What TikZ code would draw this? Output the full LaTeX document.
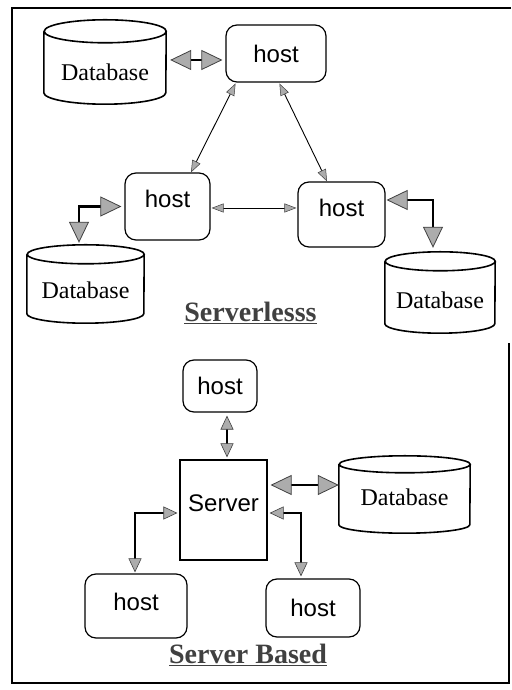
\documentclass[tikz,border=0pt]{standalone}
\usepackage{fontspec}
\setmainfont{Liberation Serif}
\newfontfamily\hvfont{Liberation Sans}
\usetikzlibrary{arrows.meta,calc}

\newcommand\dbcylinder[3]{% node name, x radius, y radius
  \draw[cylline] ([yshift=-#3pt]#1.north west) -- ([yshift=#3pt]#1.south west)
     arc[start angle=180,end angle=360,x radius=#2pt,y radius=#3pt]
     -- ([yshift=-#3pt]#1.north east)
     arc[start angle=0,end angle=180,x radius=#2pt,y radius=#3pt]
     arc[start angle=180,end angle=360,x radius=#2pt,y radius=#3pt];
}

\tikzset{
  hostbox/.style={draw, line width=1.2pt, rounded corners=11pt, inner sep=0pt},
  hosttext/.style={font=\hvfont\fontsize{24}{28}\selectfont},
  serverbox/.style={draw, line width=1.2pt, inner sep=0pt},
  dbbox/.style={inner sep=0pt},
  dbtext/.style={font=\fontsize{24}{28}\selectfont},
  cylline/.style={line width=1.6pt},
  titletext/.style={font=\bfseries\fontsize{28}{32}\selectfont, text=black!75},
  frameline/.style={line width=1.8pt},
  bigtip/.tip={Triangle[length=21pt,width=20pt,fill=gray!65,color=black!75,line width=0.8pt]},
  medtip/.tip={Triangle[length=14pt,width=13pt,fill=gray!65,color=black!75,line width=0.6pt]},
  smalltip/.tip={Triangle[length=12pt,width=9pt,fill=gray!65,color=black!75,line width=0.5pt]},
  bigarr/.style={line width=2.6pt, bigtip-bigtip},
  medarr/.style={line width=1.6pt, medtip-medtip},
  smallarr/.style={line width=0.9pt, smalltip-smalltip},
}

\begin{document}
\begin{tikzpicture}[x=1pt,y=1pt]
\useasboundingbox (0,0) rectangle (511,690);

% frame
\draw[frameline] (511,682) -- (12,682) -- (12,7) -- (509,7) -- (509,347);

% ---------- Serverless ----------
\node[hostbox, minimum width=100pt, minimum height=57pt, label={[hosttext]center:host}] (host1) at (276,636.5) {};
\node[hostbox, minimum width=85pt, minimum height=67pt, label={[hosttext, yshift=8pt]center:host}] (host2) at (167.5,483.5) {};
\node[hostbox, minimum width=87pt, minimum height=65pt, label={[hosttext, yshift=7pt]center:host}] (host3) at (341.5,475.5) {};

\node[dbbox, minimum width=122pt, minimum height=84pt, label={[dbtext, yshift=-10pt]center:Database}] (db1) at (105,628) {};
\dbcylinder{db1}{61}{11.5}
\node[dbbox, minimum width=117pt, minimum height=78pt, label={[dbtext, yshift=-6pt]center:Database}] (db2) at (85.5,406) {};
\dbcylinder{db2}{58.5}{9.5}
\node[dbbox, minimum width=110pt, minimum height=81pt, label={[dbtext, yshift=-7.5pt]center:Database}] (db3) at (440,397.5) {};
\dbcylinder{db3}{55}{9.5}

\node[titletext] (title1) at (250.5,377) {\underline{Serverlesss}};

\coordinate (a1) at ([yshift=-6.5pt]host1.west);
\draw[bigarr, shorten <=4pt, shorten >=3pt] (db1.east |- a1) -- (a1);
\draw[smallarr, shorten <=1pt] ([xshift=-40pt]host1.south) -- ([xshift=23.5pt]host2.north);
\draw[smallarr, shorten <=1pt] ([xshift=3pt]host1.south) -- ([xshift=-14.5pt]host3.north);
\coordinate (a4) at ([yshift=-1.5pt]host2.east);
\draw[smallarr, shorten <=1pt, shorten >=1pt] (a4) -- (host3.west |- a4);
\draw[bigarr, shorten <=3pt, shorten >=2pt] (host2.west) -| ([xshift=-6.5pt]db2.north);
\draw[bigarr, shorten <=1pt, shorten >=4pt] ([yshift=14.5pt]host3.east) -| ([xshift=-7pt]db3.north);

% ---------- Server based ----------
\node[hostbox, minimum width=74pt, minimum height=52pt, label={[hosttext]center:host}] (host4) at (220,304) {};
\node[serverbox, minimum width=87pt, minimum height=100pt, label={[hosttext, yshift=7pt]center:Server}] (server) at (223.5,180) {};
\node[dbbox, minimum width=131pt, minimum height=77pt, label={[dbtext, yshift=-3pt]center:Database}] (db4) at (404.5,195.5) {};
\dbcylinder{db4}{65.5}{8.5}
\node[hostbox, minimum width=102pt, minimum height=64pt, label={[hosttext, yshift=4pt]center:host}] (host5) at (136,84) {};
\node[hostbox, minimum width=94pt, minimum height=58pt, label={[hosttext]center:host}] (host6) at (313,82) {};

\node[titletext] (title2) at (248,35) {\underline{Server Based}};

\coordinate (a7) at ([xshift=7pt]host4.south);
\draw[medarr, line width=2pt, shorten <=3pt, shorten >=2pt] (a7) -- (server.north -| a7);
\coordinate (a8) at ([yshift=25pt]server.east);
\draw[bigarr, shorten <=3pt] (a8) -- (db4.west |- a8);
\draw[medarr, shorten <=2pt, shorten >=1pt] ([yshift=-3pt]server.west) -| ([xshift=-1pt]host5.north);
\draw[medarr, shorten <=2pt, shorten >=2pt] ([yshift=-3pt]server.east) -| ([xshift=-12pt]host6.north);
\end{tikzpicture}
\end{document}
